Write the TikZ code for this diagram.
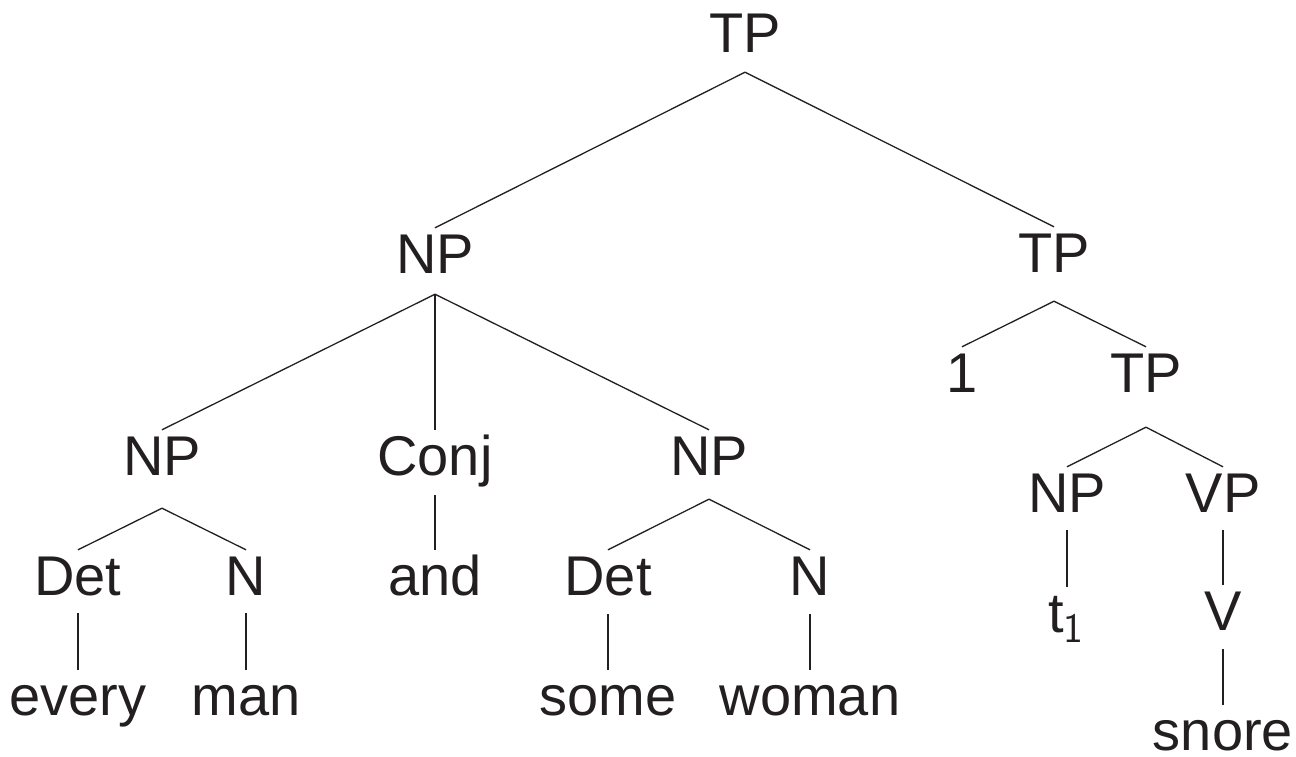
\documentclass[tikz,border=0pt]{standalone}
\usepackage{fontspec}
\setmainfont{Liberation Sans}
\definecolor{ink}{HTML}{231F20}
\begin{document}
\begin{tikzpicture}[x=1pt,y=-1pt,
  lab/.style={anchor=base, inner sep=0pt, text height=45pt, text depth=#1,
              font=\fontsize{56}{60}\selectfont, text=ink},
  lab/.default=20pt,
  leaf/.style={lab=5pt},
  edge/.style={draw=ink, line width=1.3pt}]
\useasboundingbox (0,0) rectangle (1296,756);

% labels, placed on their baselines
\node[lab]      (tp0)   at (745,52)   {TP};
\node[lab=21pt] (np1)   at (435,273)  {NP};
\node[lab=29pt] (tp1)   at (1054,272) {TP};
\node[lab=33pt] (npa)   at (162,475)  {NP};
\node[lab=20pt] (conj)  at (435,475)  {Conj};
\node[lab=24pt] (npb)   at (709,475)  {NP};
\node[leaf]     (one)   at (962,392)  {1};
\node[lab=35pt] (tp2)   at (1146,392) {TP};
\node[lab=18pt] (npc)   at (1067,512) {NP};
\node[lab=18pt] (vp)    at (1223,512) {VP};
\node[lab=18pt] (deta)  at (78,595)   {Det};
\node[lab=18pt] (na)    at (246,595)  {N};
\node[leaf]     (and)   at (435,595)  {and};
\node[lab=19pt] (detb)  at (608,595)  {Det};
\node[lab=19pt] (nb)    at (810,595)  {N};
\node[leaf]     (every) at (78,715)   {every};
\node[leaf]     (man)   at (246,715)  {man};
\node[leaf]     (some)  at (608,715)  {some};
\node[leaf]     (woman) at (810,715)  {woman};
\node[leaf]     (t1)    at (1066,632) {t\raisebox{-10pt}{\fontsize{42}{44}\selectfont\sffamily 1}};
\node[lab=19pt] (v)     at (1223,630) {V};
\node[leaf]     (snore) at (1223,750) {snore};

% branches
\draw[edge] (tp0.south) -- (np1.north);
\draw[edge] (tp0.south) -- (tp1.north);
\draw[edge] (np1.south) -- (npa.north);
\draw[edge] (np1.south) -- (conj.north);
\draw[edge] (np1.south) -- (npb.north);
\draw[edge] (tp1.south) -- (one.north);
\draw[edge] (tp1.south) -- (tp2.north);
\draw[edge] (tp2.south) -- (npc.north);
\draw[edge] (tp2.south) -- (vp.north);
\draw[edge] (npa.south) -- (deta.north);
\draw[edge] (npa.south) -- (na.north);
\draw[edge] (conj.south) -- (and.north);
\draw[edge] (npb.south) -- (detb.north);
\draw[edge] (npb.south) -- (nb.north);
\draw[edge] (deta.south) -- (every.north);
\draw[edge] (na.south) -- (man.north);
\draw[edge] (detb.south) -- (some.north);
\draw[edge] (nb.south) -- (woman.north);
\draw[edge] (npc.south) -- (npc.south |- t1.north);
\draw[edge] (vp.south) -- (v.north);
\draw[edge] (v.south) -- (snore.north);
\end{tikzpicture}
\end{document}
